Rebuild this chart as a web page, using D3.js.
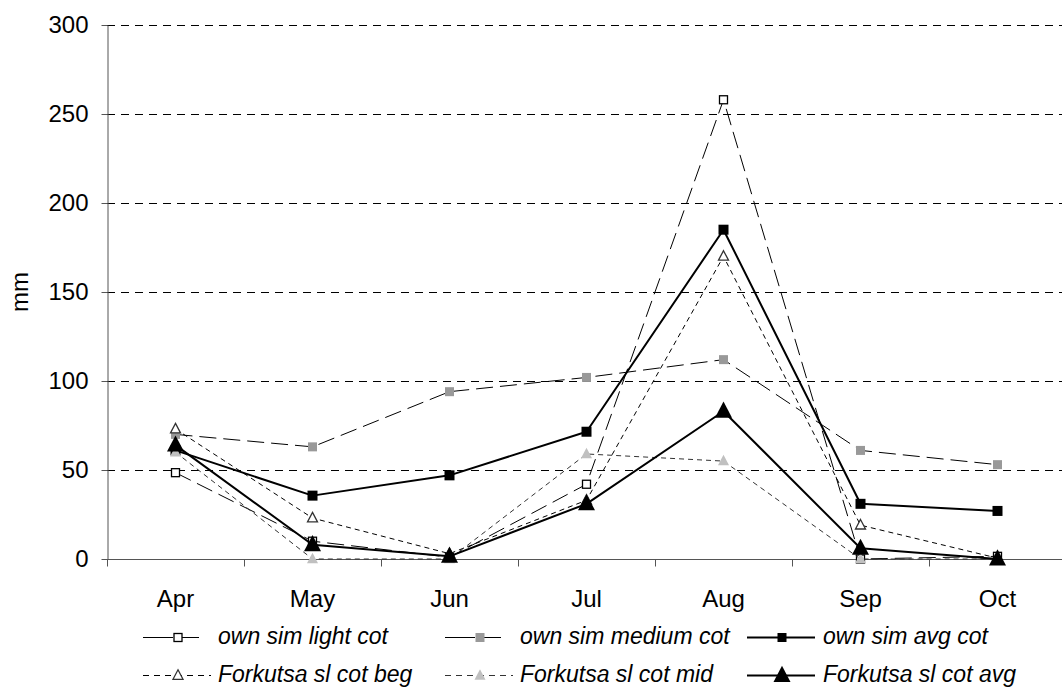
<!DOCTYPE html>
<html><head><meta charset="utf-8">
<script src="https://cdn.jsdelivr.net/npm/d3@7"></script>
<style>
html,body{margin:0;padding:0;background:#fff;}
svg{display:block;font-family:"Liberation Sans",Arial,sans-serif;}
</style></head>
<body><svg id="c" width="1062" height="687"></svg>
<script>
const months = ["Apr","May","Jun","Jul","Aug","Sep","Oct"];
const yTicks = [0,50,100,150,200,250,300];
const ownSimLight  = [48.5, 10, 1, 42, 258, 0, 1.5];
const ownSimMedium = [70, 63, 94, 102, 112, 61, 53];
const ownSimAvg    = [61, 35.6, 47, 71.5, 185, 31, 27];
const forkBeg      = [73, 23, 3, 33, 170, 19, 0.5];
const forkMid      = [60, 0, 0, 59, 55, 0, 0];
const forkAvg      = [64, 8, 1.5, 31, 83, 6, 0];
const seriesNames = ["own sim light cot","own sim medium cot","own sim avg cot",
                     "Forkutsa sl cot beg","Forkutsa sl cot mid","Forkutsa sl cot avg"];

const series = [
  {name:seriesNames[0], values:ownSimLight,  stroke:"#000", sw:1, dash:"17,7", legDash:"30,4,22,12,4,100", shape:"square", size:8, fill:"#fff", mstroke:"#000", msw:1.3},
  {name:seriesNames[1], values:ownSimMedium, stroke:"#000", sw:1, dash:"17,7", legDash:"30,4,22,12,4,100", shape:"square", size:9, fill:"#999", mstroke:"#999", msw:0},
  {name:seriesNames[2], values:ownSimAvg,    stroke:"#000", sw:2, dash:null,   legDash:null, shape:"square", size:10, fill:"#000", mstroke:"#000", msw:0},
  {name:seriesNames[3], values:forkBeg,      stroke:"#000", sw:1, dash:"5,4",  legDash:"6,5", shape:"triangle", size:10, fill:"#fff", mstroke:"#333", msw:1.3},
  {name:seriesNames[4], values:forkMid,      stroke:"#333", sw:1, dash:"5,4",  legDash:"6,5", shape:"triangle", size:11, fill:"#c0c0c0", mstroke:"#c0c0c0", msw:0},
  {name:seriesNames[5], values:forkAvg,      stroke:"#000", sw:2, dash:null,   legDash:null, shape:"triangle", size:17, fill:"#000", mstroke:"#000", msw:0}
];

const svg = d3.select("#c");
const plotLeft = 107, step = 137, plotTop = 25, plotBottom = 559;
const x = d3.scaleBand().domain(months).range([plotLeft, plotLeft + step*months.length]).padding(0);
const y = d3.scaleLinear().domain([0,300]).range([plotBottom, plotTop]);
const cx = m => x(m) + x.bandwidth()/2;

// gridlines
svg.append("g").selectAll("line").data(yTicks.filter(d=>d>0)).join("line")
  .attr("x1", plotLeft).attr("x2", 1062)
  .attr("y1", d=>Math.round(y(d))+0.5).attr("y2", d=>Math.round(y(d))+0.5)
  .attr("stroke","#000").attr("stroke-width",1).attr("stroke-dasharray","8,6");

// y axis
const ya = svg.append("g").attr("transform",`translate(${plotLeft+0.5},0)`)
  .call(d3.axisLeft(y).tickValues(yTicks).tickSize(6).tickPadding(13).tickSizeOuter(0));
ya.select(".domain").attr("stroke","#555");
ya.selectAll(".tick line").attr("stroke","#555");
ya.selectAll("text").attr("font-size",24).attr("fill","#000").attr("font-family","Liberation Sans, Arial, sans-serif");

// x axis
const xa = svg.append("g").attr("transform",`translate(0,${plotBottom+0.5})`);
xa.append("line").attr("x1",plotLeft).attr("x2",1062).attr("stroke","#555");
xa.selectAll(".bt").data(months.map((m,i)=>plotLeft+step*i)).join("line").attr("class","bt")
  .attr("x1",d=>d+0.5).attr("x2",d=>d+0.5).attr("y1",0).attr("y2",7).attr("stroke","#555");
xa.selectAll("text.lab").data(months).join("text").attr("class","lab")
  .attr("x",d=>cx(d)).attr("y",47).attr("text-anchor","middle")
  .attr("font-size",24).attr("fill","#000").text(d=>d);

// y label
svg.append("text").attr("transform","translate(28,292) rotate(-90)")
  .attr("text-anchor","middle").attr("font-size",24).text("mm");

function marker(g, s, px, py){
  if(s.shape==="square"){
    const h = s.size/2;
    g.append("rect").attr("x",px-h).attr("y",py-h).attr("width",s.size).attr("height",s.size)
      .attr("fill",s.fill).attr("stroke",s.msw?s.mstroke:"none").attr("stroke-width",s.msw);
  } else {
    const w = s.size, h = s.size*0.95;
    g.append("path").attr("d",`M${px},${py-h*0.6}L${px+w/2},${py+h*0.4}L${px-w/2},${py+h*0.4}Z`)
      .attr("fill",s.fill).attr("stroke",s.msw?s.mstroke:"none").attr("stroke-width",s.msw);
  }
}

const line = d3.line().x((d,i)=>cx(months[i])).y(d=>y(d));
series.forEach(s=>{
  const g = svg.append("g");
  g.append("path").attr("d",line(s.values)).attr("fill","none")
    .attr("stroke",s.stroke).attr("stroke-width",s.sw)
    .attr("stroke-dasharray",s.dash||null).attr("stroke-linejoin","round");
  s.values.forEach((v,i)=>marker(g,s,cx(months[i]),y(v)));
});

// legend
const legPos = [
  {sx:143, tx:218, y:637},{sx:445, tx:520, y:637},{sx:747, tx:823, y:637},
  {sx:143, tx:218, y:675},{sx:445, tx:520, y:675},{sx:747, tx:823, y:675}
];
series.forEach((s,i)=>{
  const p = legPos[i];
  const g = svg.append("g");
  g.append("line").attr("x1",p.sx).attr("x2",p.sx+68).attr("y1",p.y+0.5).attr("y2",p.y+0.5)
    .attr("stroke",s.stroke).attr("stroke-width",s.sw).attr("stroke-dasharray",s.legDash||null);
  marker(g, Object.assign({},s,{size:s.shape==="square"?Math.min(s.size,9):s.size}), p.sx+35, p.y+0.5);
  g.append("text").attr("x",p.tx).attr("y",p.y+7).attr("font-size",23).attr("font-style","italic")
    .text(s.name);
});
</script></body></html>
